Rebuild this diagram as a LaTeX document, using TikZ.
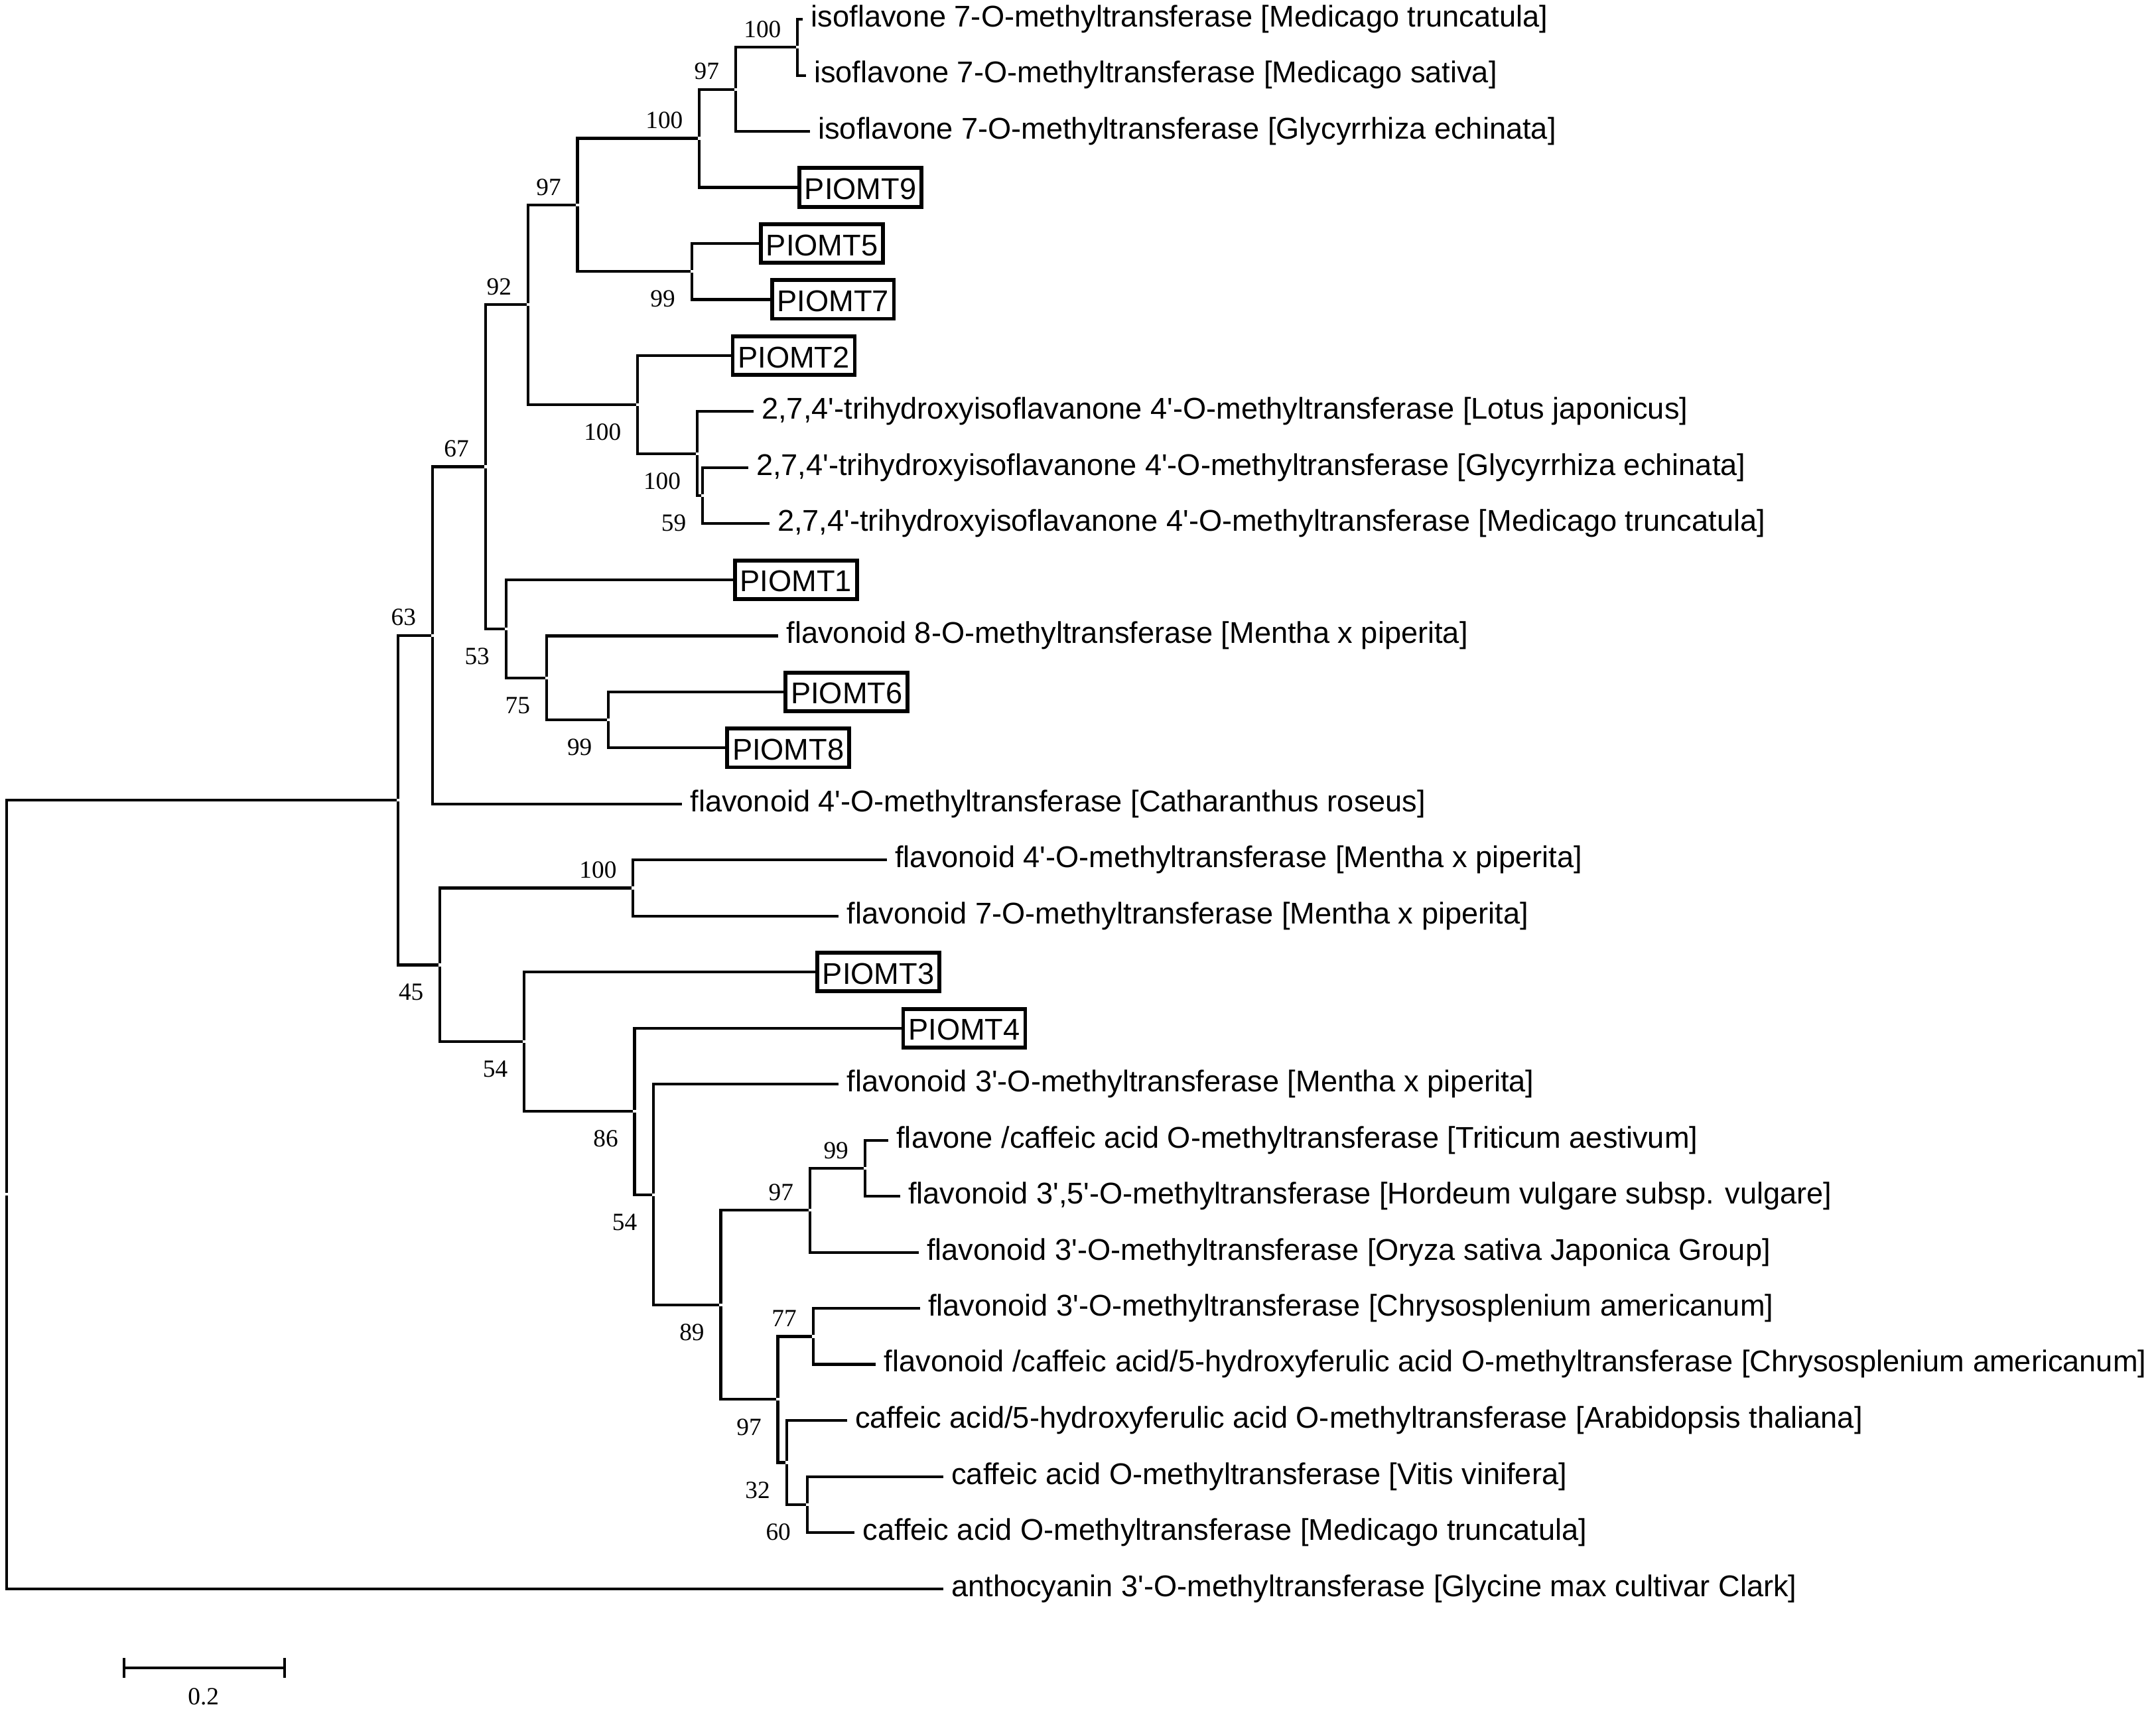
\documentclass[tikz,border=0pt]{standalone}
\usepackage{fontspec}
\newfontfamily\leaffont{Liberation Sans}[Ligatures=TeXOff]
\newfontfamily\bsfont{Liberation Serif}
\usepackage{tikz}

\begin{document}
\begin{tikzpicture}[x=1pt, y=-1pt,
        line width=2pt,
        no/.style = {inner sep=0pt, minimum size=0pt},
        lf/.style = {anchor=west, inner xsep=5pt, inner ysep=0pt, text height=16pt, text depth=5pt,
                     font=\leaffont\fontsize{21.8}{24}\selectfont},
        bx/.style = {lf, draw, line width=2.8pt, inner xsep=3.8pt, inner ysep=3.8pt, text height=19pt, text depth=1.5pt},
        sc/.style = {inner sep=0pt, font=\bsfont\fontsize{18}{20}\selectfont},
        ab/.style = {sc, yshift=13pt},
        be/.style = {sc, yshift=-20pt},
        label distance=10pt,
        ]
        \useasboundingbox (0,0) rectangle (1568,1244);

        \node[lf](l1) at (584,14) {isoflavone 7-O-methyltransferase [Medicago truncatula]};
        \node[lf](l2) at (586,54.8) {isoflavone 7-O-methyltransferase [Medicago sativa]};
        \node[lf](l3) at (589,95.5) {isoflavone 7-O-methyltransferase [Glycyrrhiza echinata]};
        \node[bx](l4) at (580,136.3) {PIOMT9};
        \node[bx](l5) at (552,177) {PIOMT5};
        \node[bx](l6) at (560,217.8) {PIOMT7};
        \node[bx](l7) at (531.5,258.6) {PIOMT2};
        \node[lf](l8) at (548,299.3) {2,7,4'-trihydroxyisoflavanone 4'-O-methyltransferase [Lotus japonicus]};
        \node[lf](l9) at (544,340.1) {2,7,4'-trihydroxyisoflavanone 4'-O-methyltransferase [Glycyrrhiza echinata]};
        \node[lf](l10) at (559.5,380.8) {2,7,4'-trihydroxyisoflavanone 4'-O-methyltransferase [Medicago truncatula]};
        \node[bx](l11) at (533,421.6) {PIOMT1};
        \node[lf](l12) at (566,462.4) {flavonoid 8-O-methyltransferase [Mentha x piperita]};
        \node[bx](l13) at (570,503.1) {PIOMT6};
        \node[bx](l14) at (527.5,543.9) {PIOMT8};
        \node[lf](l15) at (496,584.6) {flavonoid 4'-O-methyltransferase [Catharanthus roseus]};
        \node[lf](l16) at (645,625.4) {flavonoid 4'-O-methyltransferase [Mentha x piperita]};
        \node[lf](l17) at (610,666.2) {flavonoid 7-O-methyltransferase [Mentha x piperita]};
        \node[bx](l18) at (593,706.9) {PIOMT3};
        \node[bx](l19) at (655.5,747.7) {PIOMT4};
        \node[lf](l20) at (610,788.4) {flavonoid 3'-O-methyltransferase [Mentha x piperita]};
        \node[lf](l21) at (646,829.2) {flavone /caffeic acid O-methyltransferase [Triticum aestivum]};
        \node[lf](l22) at (654.5,870) {flavonoid 3',5'-O-methyltransferase [Hordeum vulgare subsp. vulgare]};
        \node[lf](l23) at (668,910.7) {flavonoid 3'-O-methyltransferase [Oryza sativa Japonica Group]};
        \node[lf](l24) at (669,951.5) {flavonoid 3'-O-methyltransferase [Chrysosplenium americanum]};
        \node[lf](l25) at (637,992.2) {flavonoid /caffeic acid/5-hydroxyferulic acid O-methyltransferase [Chrysosplenium americanum]};
        \node[lf](l26) at (616,1033) {caffeic acid/5-hydroxyferulic acid O-methyltransferase [Arabidopsis thaliana]};
        \node[lf](l27) at (686,1073.8) {caffeic acid O-methyltransferase [Vitis vinifera]};
        \node[lf](l28) at (621.5,1114.5) {caffeic acid O-methyltransferase [Medicago truncatula]};
        \node[lf](l29) at (686,1155.3) {anthocyanin 3'-O-methyltransferase [Glycine max cultivar Clark]};

        \node[no](a1) at (580,34.4) [label={[ab]left:100}] {};
        \node[no](a2) at (535,65) [label={[ab]left:97}] {};
        \node[no](a3) at (508.6,100.6) [label={[ab]left:100}] {};
        \node[no](a4) at (503,197.4) [label={[be]left:99}] {};
        \node[no](a5) at (420,149) [label={[ab]left:97}] {};
        \node[no](a6) at (511,360.5) [label={[be]left:59}] {};
        \node[no](a7) at (507,329.9) [label={[be]left:100}] {};
        \node[no](a8) at (463.7,294.2) [label={[be]left:100}] {};
        \node[no](a9) at (384,221.6) [label={[ab]left:92}] {};
        \node[no](a10) at (442.5,523.5) [label={[be]left:99}] {};
        \node[no](a11) at (397.5,493) [label={[be]left:75}] {};
        \node[no](a12) at (368,457.3) [label={[be]left:53}] {};
        \node[no](a13) at (353,339.4) [label={[ab]left:67}] {};
        \node[no](a14) at (314.5,462) [label={[ab]left:63}] {};
        \node[no](a15) at (460.4,645.8) [label={[ab]left:100}] {};
        \node[no](a16) at (629,849.6) [label={[ab]left:99}] {};
        \node[no](a17) at (589,880.2) [label={[ab]left:97}] {};
        \node[no](a18) at (591.3,971.9) [label={[ab]left:77}] {};
        \node[no](a19) at (587,1094.1) [label={[be]left:60}] {};
        \node[no](a20) at (572,1063.6) [label={[be]left:32}] {};
        \node[no](a21) at (565.7,1017.7) [label={[be]left:97}] {};
        \node[no](a22) at (524.2,949) [label={[be]left:89}] {};
        \node[no](a23) at (475.3,868.7) [label={[be]left:54}] {};
        \node[no](a24) at (461.5,808.2) [label={[be]left:86}] {};
        \node[no](a25) at (381.2,757.6) [label={[be]left:54}] {};
        \node[no](a26) at (320,701.7) [label={[be]left:45}] {};
        \node[no](a27) at (289.3,581.9) {};
        \node[no](rt) at (5,868.6) {};

        \draw (l1) -| (a1) |- (l2);
        \draw (a1) -| (a2) |- (l3);
        \draw (a2) -| (a3) |- (l4);
        \draw (l5) -| (a4) |- (l6);
        \draw (a3) -| (a5) |- (a4);
        \draw (l9) -| (a6) |- (l10);
        \draw (l8) -| (a7) |- (a6);
        \draw (l7) -| (a8) |- (a7);
        \draw (a5) -| (a9) |- (a8);
        \draw (l13) -| (a10) |- (l14);
        \draw (l12) -| (a11) |- (a10);
        \draw (l11) -| (a12) |- (a11);
        \draw (a9) -| (a13) |- (a12);
        \draw (a13) -| (a14) |- (l15);
        \draw (l16) -| (a15) |- (l17);
        \draw (l21) -| (a16) |- (l22);
        \draw (a16) -| (a17) |- (l23);
        \draw (l24) -| (a18) |- (l25);
        \draw (l27) -| (a19) |- (l28);
        \draw (l26) -| (a20) |- (a19);
        \draw (a18) -| (a21) |- (a20);
        \draw (a17) -| (a22) |- (a21);
        \draw (l20) -| (a23) |- (a22);
        \draw (l19) -| (a24) |- (a23);
        \draw (l18) -| (a25) |- (a24);
        \draw (a15) -| (a26) |- (a25);
        \draw (a14) -| (a27) |- (a26);
        \draw (a27) -| (rt) |- (l29);

        \node[no](s1) at (90.3,1213) {};
        \node[no](s2) at (207,1213) {};
        \draw (s1) -- (s2);
        \draw ([yshift=7.3pt]s1.center) -- ([yshift=-7.3pt]s1.center);
        \draw ([yshift=7.3pt]s2.center) -- ([yshift=-7.3pt]s2.center);
        \node[sc](sl) at (148,1234) {0.2};
        \end{tikzpicture}
\end{document}
